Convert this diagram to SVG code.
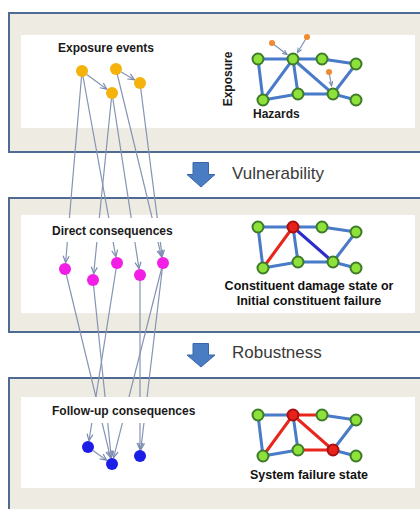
<svg xmlns="http://www.w3.org/2000/svg" width="420" height="509" viewBox="0 0 420 509">
<defs>
<style>
.panel{fill:#eeebe2;stroke:#4f6b94;stroke-width:2}
.inner{fill:#ffffff}
.lbl{font-family:"Liberation Sans",Arial,sans-serif;font-weight:bold;font-size:12px;fill:#1a1a1a}
.cap{font-family:"Liberation Sans",Arial,sans-serif;font-weight:bold;font-size:12.5px;fill:#111111}
.step{font-family:"Liberation Sans",Arial,sans-serif;font-size:17px;fill:#3a3a3a}
.conn{stroke:#8594b2;stroke-width:1.2;fill:none;marker-end:url(#ah)}
.small{stroke:#7f92b8;stroke-width:1.2;fill:none;marker-end:url(#ahs)}
.org{fill:#f5b20a}
.mag{fill:#f21ee6}
.blu{fill:#1d1de8}
.e{stroke:#4a7bc8;stroke-width:3;fill:none;stroke-linecap:round}
.er{stroke:#e8261c;stroke-width:3;fill:none;stroke-linecap:round}
.ed{stroke:#2d2dcc;stroke-width:3;fill:none;stroke-linecap:round}
.g{fill:#8ee03a;stroke:#3d7a2a;stroke-width:2}
.r{fill:#e8221a;stroke:#a81010;stroke-width:2}
.hz{fill:#f08a30}
.barrow{fill:#4a7cc4;stroke:#3a66a8;stroke-width:1}
</style>
<marker id="ah" markerUnits="userSpaceOnUse" markerWidth="10" markerHeight="10" refX="7" refY="3.5" orient="auto">
<path d="M0.5,0.5 L7,3.5 L0.5,6.5" fill="none" stroke="#7a8bb0" stroke-width="1.2"/>
</marker>
<marker id="ahs" markerUnits="userSpaceOnUse" markerWidth="8" markerHeight="8" refX="5" refY="2.5" orient="auto">
<path d="M0.5,0.5 L5,2.5 L0.5,4.5" fill="none" stroke="#7a8bb0" stroke-width="1.1"/>
</marker>
<g id="net">
<path class="e" d="M0,0 L35,0 L64,0 L98,5 M0,0 L5,41 L35,0 L40,35 M5,41 L40,35 L75,35 L98,5 M35,0 L75,35 L98,41"/>
</g>
</defs>
<rect width="420" height="509" fill="#ffffff"/>

<g id="panel-exposure">
<rect class="panel" x="9" y="13" width="420" height="139"/>
<rect class="inner" x="21" y="35" width="394" height="93"/>
</g>
<g id="panel-direct">
<rect class="panel" x="9" y="198" width="420" height="134"/>
<rect class="inner" x="21" y="215" width="394" height="98"/>
</g>
<g id="panel-followup">
<rect class="panel" x="9" y="378" width="420" height="140"/>
<rect class="inner" x="21" y="397" width="394" height="91"/>
</g>

<g id="connectors">
<line class="conn" x1="86.8" y1="74.5" x2="106.8" y2="89.2"/>
<line class="conn" x1="121.2" y1="72" x2="134.4" y2="79.7"/>
<line class="conn" x1="82" y1="71" x2="65.6" y2="262.5"/>
<line class="conn" x1="82" y1="71" x2="115.8" y2="256.6"/>
<line class="conn" x1="112" y1="93" x2="93.7" y2="273.5"/>
<line class="conn" x1="112" y1="93" x2="139" y2="268.6"/>
<line class="conn" x1="116" y1="69" x2="161.5" y2="256.7"/>
<line class="conn" x1="140" y1="83" x2="162.2" y2="256.6"/>
<line class="conn" x1="65" y1="269" x2="110.5" y2="457.7"/>
<line class="conn" x1="93" y1="280" x2="111.3" y2="457.5"/>
<line class="conn" x1="117" y1="263" x2="89" y2="440.6"/>
<line class="conn" x1="140" y1="275" x2="140" y2="449.5"/>
<line class="conn" x1="163" y1="263" x2="140.8" y2="449.5"/>
<line class="conn" x1="163" y1="263" x2="113.6" y2="457.7"/>
<line class="conn" x1="92.9" y1="450.5" x2="106.7" y2="460.2"/>
</g>

<g id="label-boxes">
<rect x="48" y="218" width="134" height="24" fill="#ffffff"/>
<rect x="48" y="397" width="156" height="26" fill="#ffffff"/>
</g>

<g id="exposure-events">
<text class="lbl" x="58" y="52">Exposure events</text>
<circle class="org" cx="82" cy="71" r="6"/>
<circle class="org" cx="116" cy="69" r="6"/>
<circle class="org" cx="112" cy="93" r="6"/>
<circle class="org" cx="140" cy="83" r="6"/>
</g>

<g id="direct-consequences">
<text class="lbl" x="52" y="235">Direct consequences</text>
<circle class="mag" cx="65" cy="269" r="6"/>
<circle class="mag" cx="93" cy="280" r="6"/>
<circle class="mag" cx="117" cy="263" r="6"/>
<circle class="mag" cx="140" cy="275" r="6"/>
<circle class="mag" cx="163" cy="263" r="6"/>
</g>

<g id="followup-consequences">
<text class="lbl" x="52" y="415">Follow-up consequences</text>
<circle class="blu" cx="88" cy="447" r="6"/>
<circle class="blu" cx="112" cy="464" r="6"/>
<circle class="blu" cx="140" cy="456" r="6"/>
</g>

<g id="network-exposure">
<text class="lbl" transform="translate(232,79) rotate(-90)" text-anchor="middle" font-size="12.5">Exposure</text>
<use href="#net" x="258" y="59"/>
<g transform="translate(258,59)">
<circle class="g" cx="0" cy="0" r="5.5"/><circle class="g" cx="35" cy="0" r="5.5"/><circle class="g" cx="64" cy="0" r="5.5"/><circle class="g" cx="98" cy="5" r="5.5"/>
<circle class="g" cx="5" cy="41" r="5.5"/><circle class="g" cx="40" cy="35" r="5.5"/><circle class="g" cx="75" cy="35" r="5.5"/><circle class="g" cx="98" cy="41" r="5.5"/>
</g>
<line class="small" x1="272" y1="43" x2="287" y2="54.5"/>
<line class="small" x1="307" y1="37" x2="297.5" y2="52.5"/>
<line class="small" x1="329" y1="72" x2="331.6" y2="85.8"/>
<circle class="hz" cx="272" cy="43" r="3"/>
<circle class="hz" cx="307" cy="37" r="3"/>
<circle class="hz" cx="329" cy="72" r="3"/>
<text class="lbl" x="253" y="118">Hazards</text>
</g>

<g id="arrow-vulnerability">
<path class="barrow" d="M193,162.5 L208.5,162.5 L208.5,174.5 L215,174.5 L201,187 L187,174.5 L193,174.5 Z"/>
<text class="step" x="232" y="179">Vulnerability</text>
</g>

<g id="network-damage">
<g transform="translate(258,227)">
<path class="e" d="M0,0 L35,0 L64,0 L98,5 M0,0 L5,41 M35,0 L40,35 M5,41 L40,35 L75,35 L98,5 M75,35 L98,41"/>
<path class="er" d="M5,41 L35,0"/>
<path class="ed" d="M35,0 L75,35"/>
<circle class="g" cx="0" cy="0" r="5.5"/><circle class="r" cx="35" cy="0" r="5.5"/><circle class="g" cx="64" cy="0" r="5.5"/><circle class="g" cx="98" cy="5" r="5.5"/>
<circle class="g" cx="5" cy="41" r="5.5"/><circle class="g" cx="40" cy="35" r="5.5"/><circle class="g" cx="75" cy="35" r="5.5"/><circle class="g" cx="98" cy="41" r="5.5"/>
</g>
<text class="cap" x="309" y="290" text-anchor="middle">Constituent damage state or</text>
<text class="cap" x="309" y="305" text-anchor="middle">Initial constituent failure</text>
</g>

<g id="arrow-robustness">
<path class="barrow" d="M193,343.5 L208.5,343.5 L208.5,355 L215,355 L201,367 L187,355 L193,355 Z"/>
<text class="step" x="232" y="358" font-size="16">Robustness</text>
</g>

<g id="network-failure">
<g transform="translate(258,415)">
<path class="e" d="M0,0 L35,0 M64,0 L98,5 M0,0 L5,41 M35,0 L40,35 M5,41 L40,35 M75,35 L98,5 M75,35 L98,41"/>
<path class="er" d="M5,41 L35,0 L64,0 M35,0 L75,35 L40,35"/>
<circle class="g" cx="0" cy="0" r="5.5"/><circle class="r" cx="35" cy="0" r="5.5"/><circle class="g" cx="64" cy="0" r="5.5"/><circle class="g" cx="98" cy="5" r="5.5"/>
<circle class="g" cx="5" cy="41" r="5.5"/><circle class="g" cx="40" cy="35" r="5.5"/><circle class="r" cx="75" cy="35" r="5.5"/><circle class="g" cx="98" cy="41" r="5.5"/>
</g>
<text class="cap" x="309" y="479" text-anchor="middle">System failure state</text>
</g>
</svg>
